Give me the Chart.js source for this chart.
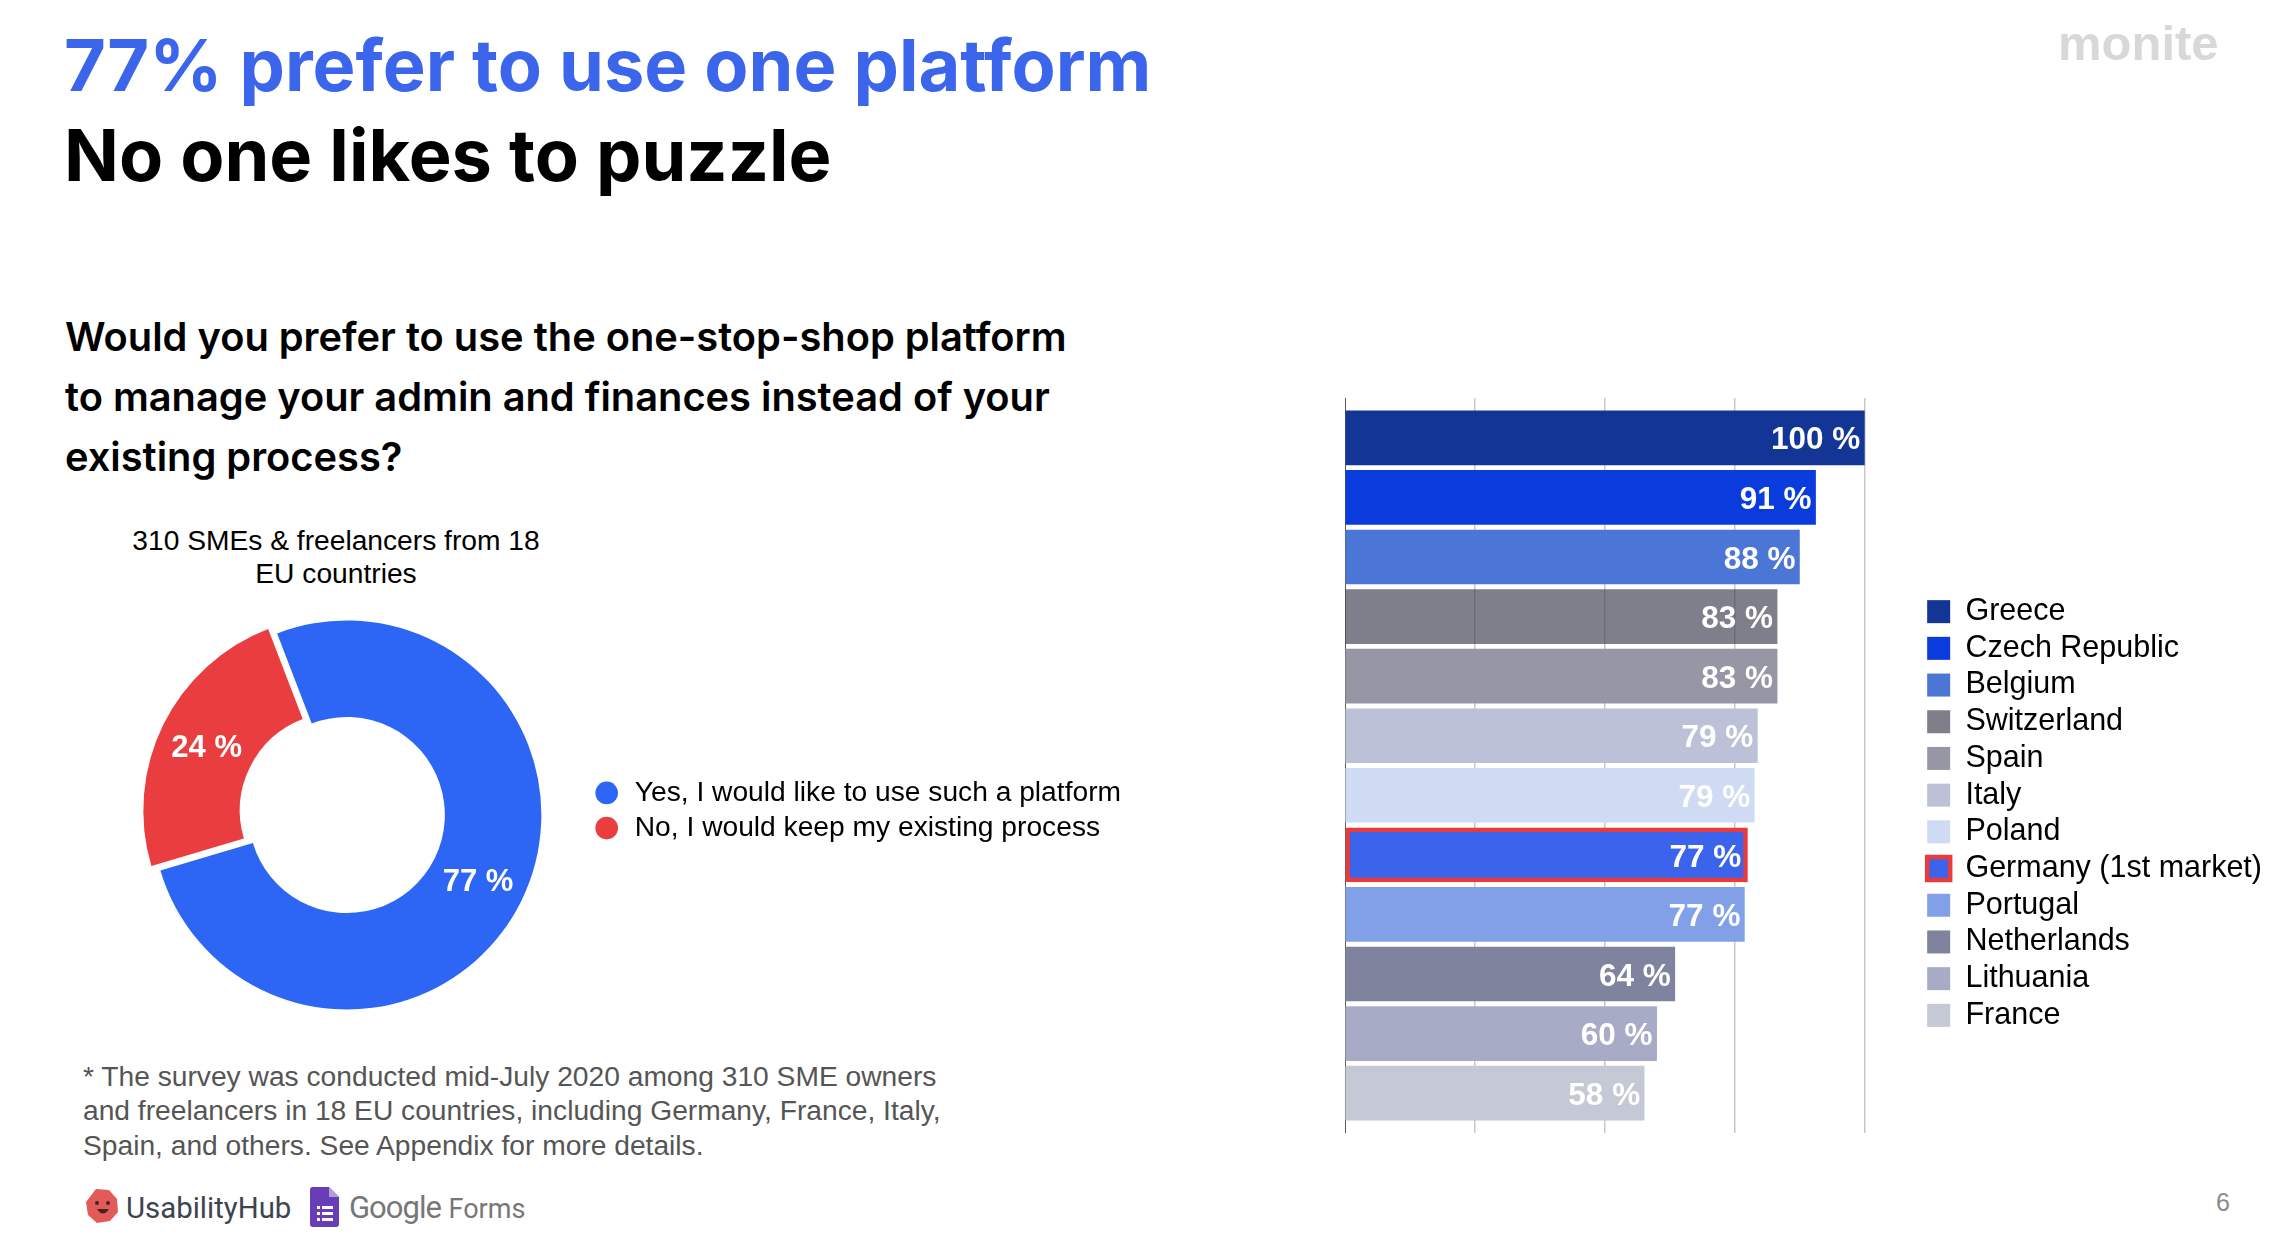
<!DOCTYPE html>
<html>
<head>
<meta charset="utf-8">
<title>77% prefer to use one platform</title>
<script src="https://cdn.jsdelivr.net/npm/chart.js@4"></script>
<style>
body { margin:0; width:2276px; height:1246px; background:#fff; overflow:hidden; position:relative; font-family:"Liberation Sans",sans-serif; color:#000; }
.txt { position:absolute; white-space:nowrap; }
h1 { position:absolute; margin:0; left:64px; font-family:Inter,sans-serif; font-weight:700; font-size:72.1px; line-height:90px; white-space:nowrap; }
canvas { position:absolute; }
</style>
</head>
<body>
<h1 style="top:20px;color:#3b66ec">77% prefer to use one platform</h1>
<h1 style="top:110px">No one likes to puzzle</h1>
<div class="txt" style="left:2058px;top:15px;font:700 49px 'Liberation Sans',sans-serif;color:#d8d8d8">monite</div>

<div class="txt" style="left:65px;top:307px;font:600 39.8px/60px Inter,sans-serif">Would you prefer to use the one-stop-shop platform<br>to manage your admin and finances instead of your<br>existing process?</div>

<div class="txt" style="left:36px;width:600px;top:523.5px;text-align:center;font-size:28.2px;line-height:33.5px">310 SMEs &amp; freelancers from 18<br>EU countries</div>

<canvas id="donut" style="left:108px;top:615px" width="1023" height="400"></canvas>
<canvas id="bars" style="left:1345px;top:398px" width="927" height="735"></canvas>

<div class="txt" style="left:83px;top:1058.5px;font-size:28.2px;line-height:34.5px;color:#555">* The survey was conducted mid-July 2020 among 310 SME owners<br>and freelancers in 18 EU countries, including Germany, France, Italy,<br>Spain, and others. See Appendix for more details.</div>

<svg style="position:absolute;left:85px;top:1188px" width="34" height="36" viewBox="0 0 34 36">
  <path d="M11 1 L24 2 L32 11 L33 24 L25 33 L12 35 L3 27 L1 14 Z" fill="#e25b58"/>
  <circle cx="12" cy="15" r="2" fill="#4a2020"/><circle cx="23" cy="15" r="2" fill="#4a2020"/>
  <path d="M12 21 Q18 30 24 21 Z" fill="#4a2020"/>
</svg>
<div class="txt" style="left:126px;top:1190px;font:400 29.4px/36px Roboto,sans-serif;color:#3d4450">UsabilityHub</div>
<svg style="position:absolute;left:310px;top:1187px" width="30" height="40" viewBox="0 0 30 40">
  <path d="M3 0 H19 L29 10 V37 a3 3 0 0 1 -3 3 H3 a3 3 0 0 1 -3 -3 V3 a3 3 0 0 1 3 -3 Z" fill="#6a3db8"/>
  <path d="M19 0 L29 10 H19 Z" fill="#b39ddb"/>
  <g fill="#fff"><rect x="7" y="19" width="3" height="3"/><rect x="7" y="25" width="3" height="3"/><rect x="7" y="31" width="3" height="3"/><rect x="12" y="19" width="11" height="3"/><rect x="12" y="25" width="11" height="3"/><rect x="12" y="31" width="11" height="3"/></g>
</svg>
<div class="txt" style="left:349px;top:1190px;font:400 31px/36px Roboto,sans-serif;color:#777"><span style="letter-spacing:-1px">Google</span> <span style="font-size:27px">Forms</span></div>
<div class="txt" style="left:2216px;top:1188px;font-size:25px;color:#8a8a8a">6</div>

<script>
var countries = ["Greece","Czech Republic","Belgium","Switzerland","Spain","Italy","Poland","Germany (1st market)","Portugal","Netherlands","Lithuania","France"];
var shares = [100,90.6,87.5,83.2,83.2,79.4,78.8,77.5,76.9,63.5,60,57.6];
var shareLabels = ["100 %","91 %","88 %","83 %","83 %","79 %","79 %","77 %","77 %","64 %","60 %","58 %"];
var barColors = ["#133595","#0a3bdd","#4c76d6","rgba(57,59,76,.65)","#9796a4","#bcc1d7","#cedbf2","#3b63ec","#82a0e8","#80839e","#a7abc6","#c5c8d5"];
var barBorderWidths = [0,0,0,0,0,0,0,4.5,0,0,0,0];

var answers = ["Yes, I would like to use such a platform","No, I would keep my existing process"];
var answerValues = [77,24];
var answerLabels = ["77 %","24 %"];
var answerColors = ["#2d66f5","#e93d3f"];

Chart.defaults.font.family = '"Liberation Sans",sans-serif';
Chart.defaults.color = "#000";
Chart.defaults.animation = false;

// moves the legend up or down, chart.js only centres it on the plot
var legendShift = {
    id:"legendShift",
    afterLayout:function(chart,args,opts){
        chart.legend.top += opts.dy;
        chart.legend.bottom += opts.dy;
    }
};

// white value labels, the datalabels plugin is not available here
var barLabels = {
    id:"barLabels",
    afterDatasetsDraw:function(chart){
        var ctx = chart.ctx;
        ctx.save();
        ctx.font = "bold 31.5px 'Liberation Sans'";
        ctx.fillStyle = "#fff";
        ctx.textAlign = "right";
        ctx.textBaseline = "middle";
        chart.getDatasetMeta(0).data.forEach(function(bar,i){
            ctx.fillText(shareLabels[i], bar.x-4-barBorderWidths[i]/2, bar.y+3);
        });
        ctx.restore();
    }
};

var arcLabels = {
    id:"arcLabels",
    afterDatasetsDraw:function(chart){
        var ctx = chart.ctx;
        ctx.save();
        ctx.font = "bold 31px 'Liberation Sans'";
        ctx.fillStyle = "#fff";
        ctx.textAlign = "center";
        ctx.textBaseline = "middle";
        chart.getDatasetMeta(0).data.forEach(function(arc,i){
            var p = arc.getCenterPoint();
            var mid = (arc.startAngle+arc.endAngle)/2;
            // getCenterPoint pushes out by offset/2, the arc itself only moves offset/4
            var off = arc.options.offset/4;
            ctx.fillText(answerLabels[i], p.x-Math.cos(mid)*off, p.y-Math.sin(mid)*off+2.5);
        });
        ctx.restore();
    }
};

new Chart(document.getElementById("donut"),{
    type:"doughnut",
    data:{
        labels:answers,
        datasets:[{
            data:answerValues,
            backgroundColor:answerColors,
            borderWidth:0,
            offset:[0,40]
        }]
    },
    options:{
        responsive:false,
        radius:194.5,
        cutout:"50.4%",
        rotation:-21,
        plugins:{
            tooltip:{enabled:false},
            legendShift:{dy:-4.5},
            legend:{
                position:"right",
                maxWidth:580,
                labels:{usePointStyle:true,pointStyle:"circle",boxWidth:28,boxHeight:16,padding:7,font:{size:28.2}}
            }
        }
    },
    plugins:[legendShift,arcLabels]
});

new Chart(document.getElementById("bars"),{
    type:"bar",
    data:{
        labels:countries,
        datasets:[{
            data:shares.map(function(v,i){ return {x:v,y:i}; }),
            backgroundColor:barColors,
            borderColor:"#e83c3c",
            borderWidth:barBorderWidths,
            borderSkipped:false,
            barThickness:54
        }]
    },
    options:{
        responsive:false,
        indexAxis:"y",
        scales:{
            x:{
                min:0,
                max:110.9,
                afterBuildTicks:function(scale){
                    scale.ticks = scale.ticks.filter(function(t){ return t.value<=100; });
                },
                ticks:{display:false,stepSize:25},
                border:{display:false},
                grid:{color:"#c8c8c8",lineWidth:1.5,drawTicks:false}
            },
            y:{
                type:"linear",
                reverse:true,
                offset:false,
                min:-0.668,
                max:11.668,
                ticks:{display:false},
                border:{color:"#5c5c5c",width:2},
                grid:{display:false,drawTicks:false,offset:false}
            }
        },
        plugins:{
            tooltip:{enabled:false},
            legendShift:{dy:48},
            legend:{
                position:"right",
                maxWidth:400,
                labels:{
                    boxWidth:23,
                    boxHeight:23,
                    padding:6.2,
                    font:{size:30.5},
                    generateLabels:function(){
                        return countries.map(function(name,i){
                            return {text:name,fillStyle:barColors[i],strokeStyle:"#e83c3c",lineWidth:barBorderWidths[i],index:i,hidden:false};
                        });
                    }
                }
            }
        }
    },
    plugins:[legendShift,barLabels]
});
</script>
</body>
</html>
